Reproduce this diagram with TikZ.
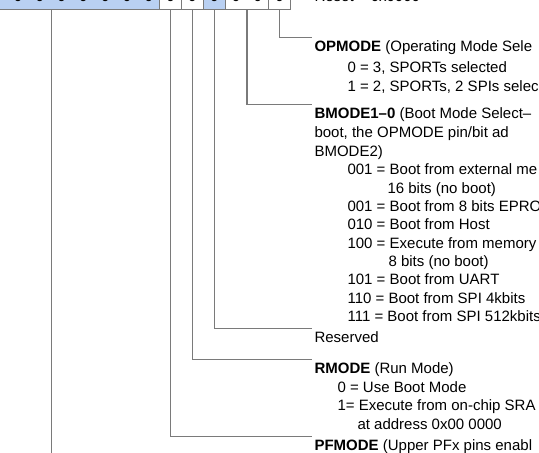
\documentclass[tikz,border=0pt]{standalone}
\usepackage{fontspec}
\setmainfont{Liberation Sans}
\usetikzlibrary{positioning, calc}
\definecolor{cblue}{HTML}{B9D0F2}
\definecolor{cgrey}{HTML}{7A7A7A}
\tikzset{
  every picture/.style={line width=1.1pt},
  cell/.style={draw=cgrey, minimum width=21.8pt, minimum height=21pt, inner sep=0pt, line width=0.9pt},
  bluecell/.style={fill=cblue, minimum width=21.8pt, minimum height=21pt, inner sep=0pt},
  bitval/.style={anchor=base, inner sep=0pt, font=\fontsize{15}{18}\selectfont},
  lead/.style={draw=cgrey, line width=1.2pt},
  head/.style={anchor=base west, inner sep=0pt, font=\fontsize{15}{18}\selectfont},
}

\begin{document}
\begin{tikzpicture}[x=1pt, y=-1pt]
  \useasboundingbox (0,0) rectangle (539,453);
  \clip (0,0) rectangle (539,453);
  \foreach \i in {6,...,13} \node[bluecell] (c\i) at ({279.6-21.8*\i},-1.5) {};
  \node[cell] (c0) at (279.6,-1.5) {};
  \node[cell, minimum width=43.6pt] (c21) at (246.9,-1.5) {};
  \node[cell, fill=cblue] (c3) at (214.2,-1.5) {};
  \node[cell] (c4) at (192.4,-1.5) {};
  \node[cell] (c5) at (170.6,-1.5) {};
  \draw[cgrey, line width=0.9pt] (c13.south west) -- (c6.south east);
  \foreach \i in {0,...,13} \node[bitval] (v\i) at ({279.6-21.8*\i},1.5) {0};

  \node[head] (rst) at (314,1) {Reset = 0x0000};
  \node[head] (opm) at (314,51) {\textbf{OPMODE} (Operating Mode Sele};
  \node[head] (bmd) at (314,118) {\textbf{BMODE1–0} (Boot Mode Select–};
  \node[head] (res) at (314,342) {Reserved};
  \node[head] (rmd) at (314,373) {\textbf{RMODE} (Run Mode)};
  \node[head] (pfm) at (314,450) {\textbf{PFMODE} (Upper PFx pins enabl};
  \foreach \x/\y/\t [count=\n] in {347/72/{0 = 3, SPORTs selected}, 347/91/{1 = 2, SPORTs, 2 SPIs selec},
                     314/137/{boot, the OPMODE pin/bit ad}, 314/156/{BMODE2)}, 347/174.5/{001 = Boot from external me},
                     387/193/{16 bits (no boot)}, 347/211/{001 = Boot from 8 bits EPRO}, 347/229.5/{010 = Boot from Host},
                     347/248/{100 = Execute from memory}, 388/266/{8 bits (no boot)}, 347/284.5/{101 = Boot from UART},
                     347/303/{110 = Boot from SPI 4kbits}, 347/321/{111 = Boot from SPI 512kbits},
                     337/392/{0 = Use Boot Mode}, 337/410/{1= Execute from on-chip SRA}, 357/429/{at address 0x00 0000}} {
    \node[head] (item\n) at (\x,\y) {\t};
  }

  \draw[lead] (c0.south) |- ([xshift=-2pt, yshift=13.5pt]opm.base west);
  \draw[lead] (c21.south) |- ([xshift=-2pt, yshift=13.5pt]bmd.base west);
  \draw[lead] (c3.south) |- ([xshift=-2pt, yshift=13.5pt]res.base west);
  \draw[lead] (c4.south) |- ([xshift=-2pt, yshift=13.5pt]rmd.base west);
  \draw[lead] (c5.south) |- ([xshift=-2pt, yshift=13.5pt]pfm.base west);
  \coordinate (bot) at (50,460);
  \draw[lead] (c11.south east) -- (c11.south east |- bot);
\end{tikzpicture}
\end{document}
